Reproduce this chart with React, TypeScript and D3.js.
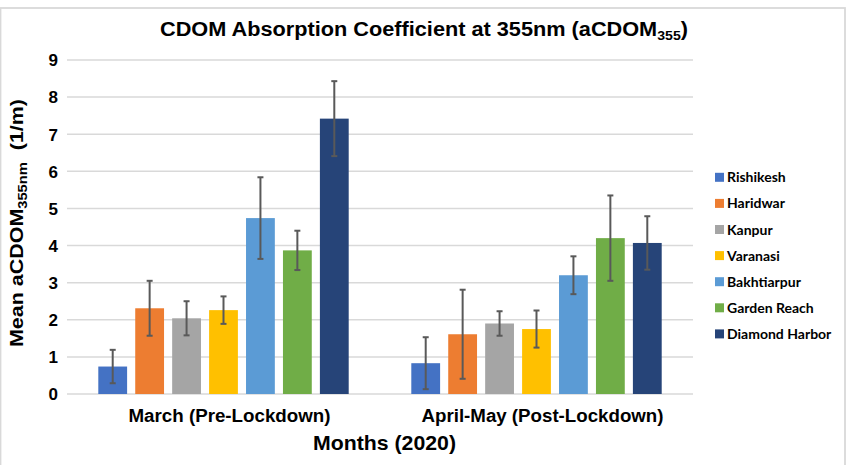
import React from "react";
import * as d3 from "d3";

const groups = ["March (Pre-Lockdown)", "April-May (Post-Lockdown)"];
const sites = ["Rishikesh", "Haridwar", "Kanpur", "Varanasi", "Bakhtiarpur", "Garden Reach", "Diamond Harbor"];
const colors = ["#4472C4", "#ED7D31", "#A5A5A5", "#FFC000", "#5B9BD5", "#70AD47", "#264478"];
const marchMeans = [0.74, 2.31, 2.04, 2.26, 4.74, 3.87, 7.42];
const marchErr = [0.45, 0.74, 0.46, 0.37, 1.1, 0.53, 1.01];
const aprilMeans = [0.83, 1.61, 1.9, 1.75, 3.2, 4.2, 4.07];
const aprilErr = [0.7, 1.2, 0.33, 0.5, 0.51, 1.15, 0.72];
const yTicks = [0, 1, 2, 3, 4, 5, 6, 7, 8, 9];

const W = 850;
const H = 465;
const FONT = "'Liberation Sans', Arial, sans-serif";

export default function App() {
  const left = 67, right = 693, top = 60, bottom = 394;
  const y = d3.scaleLinear().domain([0, 9]).range([bottom, top]);
  const x0 = d3.scaleBand<string>().domain(groups).range([left, right]).paddingInner(0.2).paddingOuter(0.1);
  const x1 = d3.scaleBand<string>().domain(sites).range([0, x0.bandwidth()]).paddingInner(0.22).paddingOuter(0);
  const data = [
    { g: groups[0], means: marchMeans, errs: marchErr },
    { g: groups[1], means: aprilMeans, errs: aprilErr },
  ];
  const labelLens = [202, 242];

  return (
    <svg width={W} height={H} style={{ position: "absolute", left: 0, top: 0, background: "#fff" }}>
      <rect x={0.5} y={8} width={844.5} height={470} fill="#fff" stroke="#D9D9D9" strokeWidth={1.8} />
      {/* gridlines */}
      {yTicks.map((t) => (
        <line key={t} x1={left} x2={right} y1={y(t)} y2={y(t)} stroke="#D9D9D9" strokeWidth={1.5} />
      ))}
      {/* tick labels */}
      {yTicks.map((t) => (
        <text key={"l" + t} x={58} y={y(t)} dy="0.37em" textAnchor="end" fontFamily={FONT} fontWeight="bold" fontSize={17} fill="#000">
          {t}
        </text>
      ))}
      {/* bars */}
      {data.map((d) => (
        <g key={d.g} transform={`translate(${x0(d.g)},0)`}>
          {sites.map((s, i) => (
            <rect key={s} x={x1(s)} y={y(d.means[i])} width={x1.bandwidth()} height={y(0) - y(d.means[i])} fill={colors[i]} />
          ))}
          {sites.map((s, i) => {
            const cx = (x1(s) as number) + x1.bandwidth() / 2;
            const hi = y(d.means[i] + d.errs[i]);
            const lo = y(d.means[i] - d.errs[i]);
            return (
              <g key={"e" + s} stroke="#595959" strokeWidth={2}>
                <line x1={cx} x2={cx} y1={hi} y2={lo} />
                <line x1={cx - 3} x2={cx + 3} y1={hi} y2={hi} />
                <line x1={cx - 3} x2={cx + 3} y1={lo} y2={lo} />
              </g>
            );
          })}
        </g>
      ))}
      {/* category labels */}
      {groups.map((g, i) => (
        <text key={g} x={(x0(g) as number) + x0.bandwidth() / 2 + 6} y={422} textAnchor="middle" fontFamily={FONT} fontWeight="bold" fontSize={18} textLength={labelLens[i]} lengthAdjust="spacingAndGlyphs">
          {g}
        </text>
      ))}
      {/* x axis title */}
      <text x={384.5} y={450} textAnchor="middle" fontFamily={FONT} fontWeight="bold" fontSize={21} textLength={143} lengthAdjust="spacingAndGlyphs">
        Months (2020)
      </text>
      {/* title */}
      <text x={424} y={36} textAnchor="middle" fontFamily={FONT} fontWeight="bold" fontSize={20} textLength={528} lengthAdjust="spacingAndGlyphs">
        CDOM Absorption Coefficient at 355nm (aCDOM<tspan fontSize={13} dy={4}>355</tspan><tspan dy={-4}>)</tspan>
      </text>
      {/* y axis title */}
      <text transform={`translate(23,${(top + bottom) / 2 - 4}) rotate(-90)`} textAnchor="middle" fontFamily={FONT} fontWeight="bold" fontSize={19} textLength={248} lengthAdjust="spacingAndGlyphs">
        Mean aCDOM<tspan fontSize={13} dy={4}>355nm</tspan><tspan dy={-4}>{"\u00a0\u00a0(1/m)"}</tspan>
      </text>
      {/* legend */}
      {sites.map((s, i) => (
        <g key={"lg" + s} transform={`translate(715,${177.3 + i * 26.1})`}>
          <rect x={0} y={-4.5} width={9} height={9} fill={colors[i]} />
          <text x={12} y={0} dy="0.36em" fontFamily="Lato, 'Open Sans', sans-serif" fontWeight="bold" fontSize={14} fill="#000">
            {s}
          </text>
        </g>
      ))}
    </svg>
  );
}
